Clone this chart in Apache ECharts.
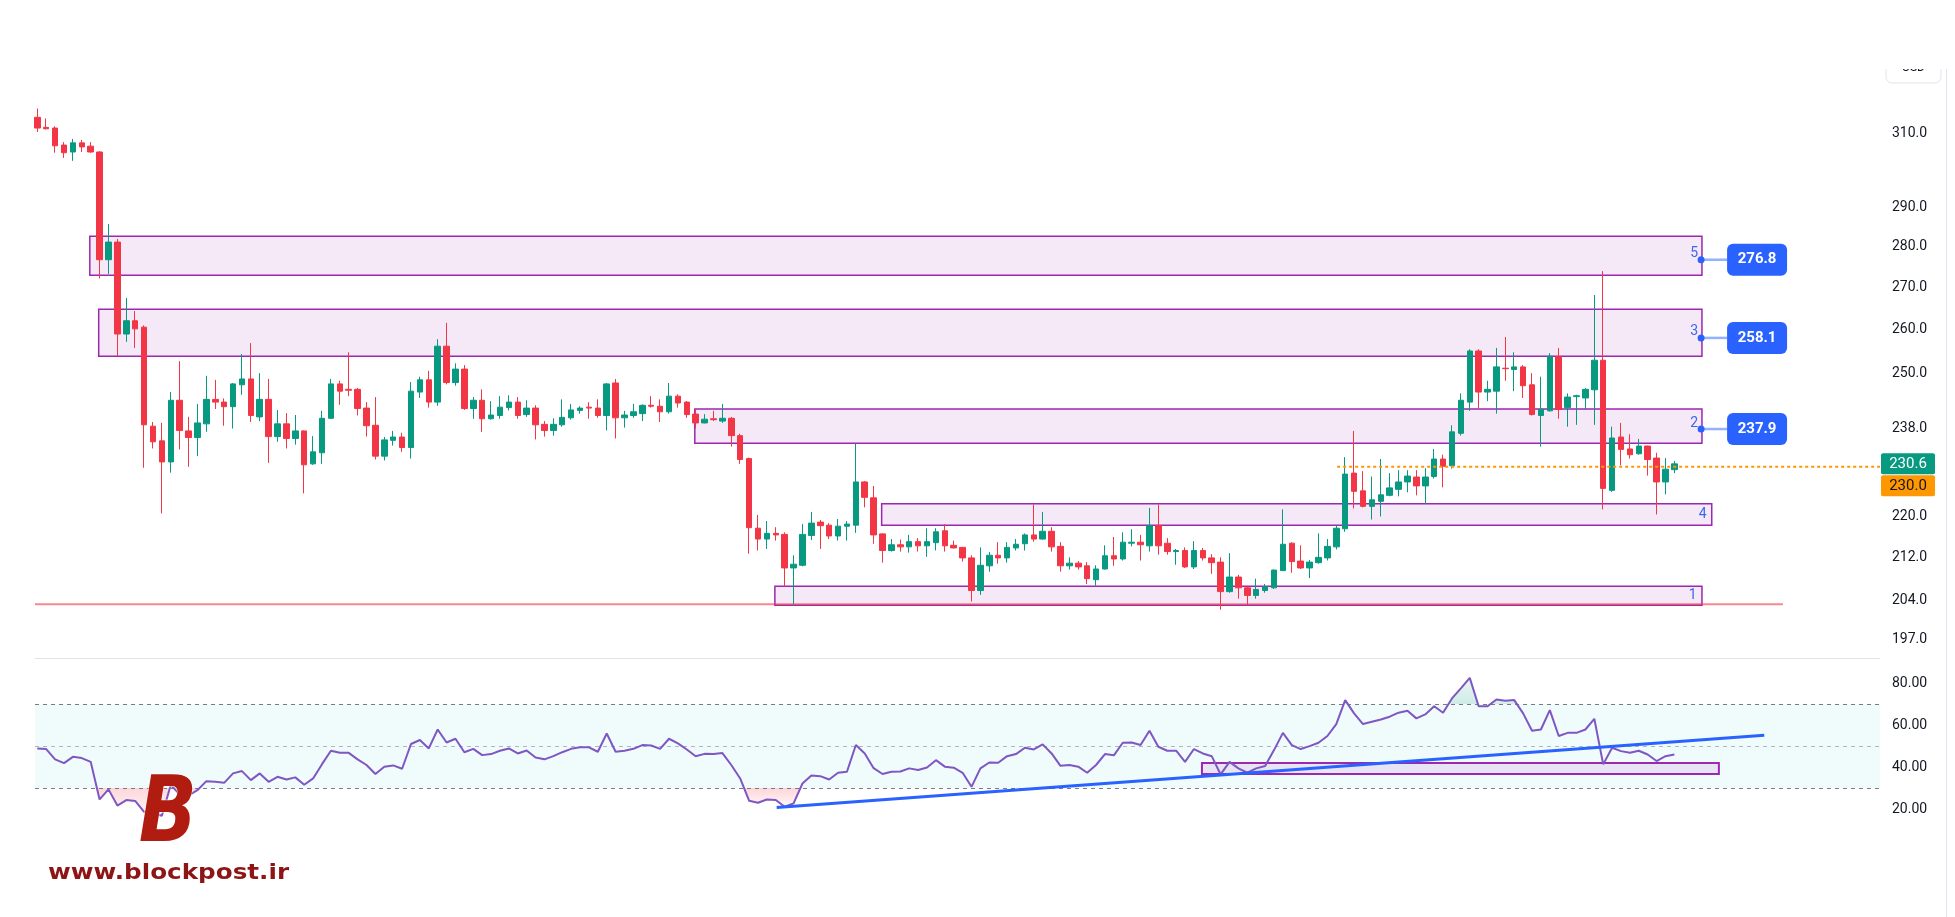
<!DOCTYPE html>
<html>
<head>
<meta charset="utf-8">
<title>Candles + RSI</title>
<script src="https://cdn.jsdelivr.net/npm/echarts@6/dist/echarts.min.js"></script>
<style>
  html, body { margin: 0; padding: 0; background: #fff; }
  #chart { width: 1955px; height: 917px; }
</style>
</head>
<body>
<div id="chart"></div>
<script>
// candles, one per bar: [open, close, low, high]
const ohlc = [
  [314.4,311.4,310.3,316.9],[311.6,311.2,311.0,314.1],[311.4,306.5,304.6,311.9],[306.7,304.6,303.2,307.5],
  [304.8,307.3,302.4,308.4],[307.3,306.2,304.8,308.1],[306.4,304.8,304.6,307.5],[304.8,276.8,272.2,305.0],
  [276.8,281.2,273.3,285.8],[281.2,259.0,253.8,282.0],[259.0,262.1,257.2,267.5],[262.1,260.2,255.8,264.4],
  [260.6,238.8,229.8,261.0],[238.5,235.2,233.8,239.4],[235.4,231.0,220.6,239.2],[231.0,244.1,228.8,245.9],
  [244.1,237.6,233.6,252.8],[237.5,236.1,230.0,240.5],[236.1,239.2,232.2,243.3],[239.0,244.3,237.3,249.5],
  [244.3,243.7,242.2,248.6],[243.7,242.7,238.6,244.5],[242.7,247.7,238.0,247.9],[247.5,248.8,245.3,254.4],
  [248.8,240.8,239.4,256.9],[240.5,244.3,239.6,250.1],[244.3,236.3,230.8,248.8],[236.3,239.0,235.2,242.0],
  [239.0,235.9,233.8,241.3],[235.9,237.5,234.6,240.9],[237.5,230.4,224.6,237.6],[230.6,233.1,230.4,236.4],
  [232.9,240.2,230.6,241.8],[240.2,247.7,240.1,248.8],[247.7,246.1,243.1,248.4],[246.5,246.3,245.0,254.8],
  [246.5,242.3,240.8,246.8],[242.4,238.6,236.3,243.7],[238.7,232.2,231.5,244.8],[232.2,235.6,231.3,236.2],
  [235.5,236.2,234.4,237.5],[236.2,234.0,233.1,237.1],[234.0,246.1,231.7,248.1],[245.9,248.6,244.6,249.3],
  [248.6,243.7,242.5,250.6],[243.7,256.2,242.9,257.8],[256.2,248.0,247.6,261.6],[248.0,251.0,247.3,252.3],
  [251.0,242.3,242.0,251.9],[242.3,244.1,240.1,244.8],[244.1,240.1,237.3,246.5],[240.1,240.9,239.9,243.9],
  [240.8,242.6,240.1,245.0],[242.5,243.7,241.9,245.2],[243.7,240.8,240.1,244.8],[241.0,242.4,240.5,244.1],
  [242.4,238.8,235.7,243.0],[238.9,237.6,236.3,239.6],[237.6,238.9,236.5,240.2],[238.8,240.4,238.4,244.3],
  [240.3,242.0,239.9,243.3],[241.9,242.4,241.2,242.8],[242.6,242.4,240.1,243.7],[242.4,240.8,240.3,244.3],
  [240.8,247.7,237.6,247.9],[247.9,240.3,235.9,248.8],[240.3,240.9,238.2,241.8],[240.8,241.6,240.3,243.3],
  [241.2,243.0,239.6,243.2],[243.0,242.8,242.5,245.0],[242.8,241.6,239.4,244.3],[241.6,245.0,241.2,247.9],
  [245.0,243.5,242.5,245.4],[243.7,241.0,240.3,243.9],[241.1,239.2,238.0,242.2],[239.2,240.0,239.1,241.1],
  [240.1,239.9,239.6,241.8],[239.6,240.2,239.2,243.3],[240.2,236.5,234.2,240.5],[236.5,231.5,230.6,236.9],
  [231.7,217.8,212.8,231.9],[217.7,215.6,213.4,220.3],[215.6,216.7,213.7,219.1],[216.7,216.4,215.3,217.9],
  [216.5,210.1,206.6,216.9],[210.1,210.8,203.4,212.5],[210.6,216.5,210.4,218.5],[216.3,218.7,215.4,220.9],
  [218.9,218.2,213.7,219.3],[218.3,216.2,215.6,218.7],[216.2,218.1,215.3,219.5],[218.1,218.5,215.3,219.1],
  [218.3,226.9,216.8,234.8],[226.9,223.8,221.8,227.1],[223.7,216.4,214.7,226.1],[216.6,213.4,211.1,216.7],
  [213.4,214.5,213.2,215.6],[214.5,214.1,213.2,215.5],[214.1,215.1,213.0,216.4],[215.1,214.3,213.2,215.8],
  [214.3,215.1,212.2,217.7],[214.9,217.0,213.4,217.7],[217.2,214.3,213.2,218.5],[214.4,213.9,213.8,215.3],
  [214.0,212.0,211.3,214.1],[212.0,205.9,203.9,212.5],[205.9,210.6,205.1,214.0],[210.5,212.5,209.4,213.1],
  [212.5,212.0,210.9,215.0],[212.0,214.0,211.1,215.0],[213.9,214.6,213.4,215.6],[214.7,216.4,213.4,216.7],
  [216.4,215.6,215.1,222.4],[215.6,217.1,215.5,220.9],[217.1,214.1,213.2,217.9],[214.2,210.5,209.4,215.0],
  [210.5,211.0,209.8,212.1],[211.0,210.3,209.8,211.4],[210.5,208.1,207.1,211.2],[207.9,209.9,206.8,210.6],
  [209.9,212.4,209.8,214.4],[212.4,211.8,210.5,216.0],[211.8,215.0,211.5,216.9],[214.8,215.0,214.2,217.5],
  [215.0,214.5,211.5,216.4],[214.3,218.2,213.2,221.7],[218.2,214.3,212.6,222.4],[214.8,213.2,212.6,215.8],
  [213.2,213.4,210.7,213.7],[213.4,210.3,210.1,214.0],[210.3,213.4,209.9,215.2],[213.4,212.0,211.5,213.9],
  [212.0,211.1,209.0,212.7],[211.2,205.7,202.4,212.1],[205.7,208.4,205.5,212.9],[208.4,206.4,204.4,208.8],
  [206.4,205.0,203.3,206.8],[205.0,206.1,204.4,208.1],[205.9,206.6,205.5,207.1],[206.4,209.7,206.2,209.8],
  [209.6,214.6,209.5,221.4],[214.8,211.3,209.2,215.0],[211.4,210.1,209.9,214.4],[210.1,211.2,208.2,211.6],
  [211.1,212.1,210.9,216.7],[212.0,214.2,211.5,215.6],[214.1,217.7,213.6,218.2],[217.6,228.5,217.0,232.0],
  [228.7,225.0,221.6,237.5],[225.1,222.0,221.8,229.1],[222.0,223.3,219.4,228.0],[223.0,224.3,220.0,231.6],
  [224.2,225.7,224.0,228.7],[225.4,226.9,224.0,229.3],[226.9,228.1,224.8,229.3],[227.9,226.1,224.2,229.3],
  [226.1,227.9,222.5,229.7],[228.0,231.6,227.6,233.7],[231.6,230.1,225.8,232.5],[230.2,237.3,229.6,238.7],
  [237.0,244.1,236.5,245.6],[243.7,255.1,241.8,255.5],[255.1,245.9,242.3,255.5],[245.9,246.5,243.9,248.4],
  [246.1,251.5,241.2,255.8],[251.2,251.1,248.4,258.3],[250.9,251.5,246.1,254.8],[251.5,247.3,244.6,251.9],
  [247.5,241.0,240.8,250.1],[240.8,242.1,234.2,249.3],[241.8,253.9,241.7,254.6],[253.8,242.1,240.1,255.8],
  [242.5,244.8,238.4,245.6],[244.9,245.1,238.8,245.3],[244.6,246.5,242.1,246.8],[246.4,253.0,238.8,268.2],
  [253.0,225.6,221.4,274.0],[225.2,236.0,224.9,238.4],[236.2,233.6,230.3,239.2],[233.7,232.5,231.7,236.8],
  [232.7,234.3,232.5,235.8],[234.3,231.5,228.2,234.4],[231.8,226.9,220.4,232.9],[226.9,229.5,224.4,231.8],
  [229.4,230.6,228.7,231.2]
];

const rsi = [
  48.9,48.6,43.7,41.9,44.9,44.3,42.5,24.6,29.4,21.7,24.3,23.9,18.7,18.0,16.8,31.5,27.0,26.5,29.0,33.3,
  33.0,32.5,37.0,38.1,33.8,37.0,33.0,35.4,34.1,35.1,31.6,34.6,41.4,47.8,46.8,46.8,43.7,41.0,36.7,40.2,
  40.8,39.2,51.0,52.9,48.9,57.9,51.7,53.5,47.1,48.7,45.7,46.2,47.8,48.9,46.5,47.9,44.6,43.7,45.2,47.1,
  48.7,49.4,49.4,47.3,56.0,47.3,47.8,48.7,50.5,50.3,48.7,53.5,51.3,48.4,45.2,46.3,46.2,46.7,41.0,34.6,
  24.0,23.0,24.6,24.3,21.1,22.7,32.2,36.0,35.7,34.1,37.3,37.8,50.5,46.5,39.5,36.7,37.8,37.9,39.4,38.6,
  39.8,43.3,40.2,39.7,37.3,30.6,39.4,42.2,42.1,45.2,46.2,49.2,48.4,50.8,46.5,40.6,41.0,40.2,37.3,41.0,
  46.2,45.6,51.6,51.7,50.5,57.3,49.7,47.8,47.8,42.5,48.6,46.5,45.2,36.5,42.5,39.4,37.3,39.4,40.5,48.1,
  56.3,50.5,48.6,50.0,51.6,54.8,60.5,71.9,65.6,60.5,61.6,62.7,64.0,65.9,66.8,63.2,65.1,69.0,65.9,72.7,
  77.5,82.5,69.0,69.0,72.2,71.6,71.9,65.6,57.3,57.9,67.1,54.8,56.3,56.3,57.9,63.0,41.3,49.2,47.6,46.8,
  47.8,46.0,42.9,45.2,46.0
];

const priceTicks = [197, 204, 212, 220, 238, 250, 260, 270, 280, 290, 310];
const rsiTicks = [20, 40, 60, 80];

// zones: [from bar, to bar, top price, bottom price, tag]
const zones = [
  [5.9, 187.1, 282.7, 273.0, ''],
  [6.9, 187.1, 264.8, 253.9, ''],
  [73.9, 187.1, 242.2, 234.9, ''],
  [94.9, 188.2, 222.5, 218.3, '4'],
  [82.9, 187.1, 206.7, 203.2, '1']
];
const levelTags = [['5', 276.8], ['3', 258.1], ['2', 237.9]];
const levelTagBar = 187.0;
const supportLine = [[-0.26, 203.4], [196.2, 203.4]];
const lastClose = 230.6;
const alertLevel = 230.0;
const alertFrom = 146.1;
const rsiBox = [130.9, 189.0, 42.0, 36.7];
const rsiTrend = [[83.1, 20.8], [194.1, 55.2]];

const X_MIN = -0.26, X_MAX = 207.11;
const LN_MIN = Math.log(193.84), LN_MAX = Math.log(343.0);
const FONT = 'Roboto, "Noto Sans", sans-serif';

const chart = echarts.init(document.getElementById('chart'));

const hiddenX = (g) => ({ type: 'value', gridIndex: g, min: X_MIN, max: X_MAX, show: false });
const rightY = (g, min, max, ticks, fmt) => ({
  type: 'value', gridIndex: g, position: 'right', min: min, max: max,
  splitLine: { show: false }, axisLine: { show: false }, axisTick: { show: false },
  axisLabel: { customValues: ticks, formatter: fmt, color: '#131722', fontSize: 14, fontFamily: FONT, margin: 12 }
});

// shaded area between the RSI line and a level, only where the line is beyond it
function levelFill(level, below, fill) {
  const beyond = v => below ? v < level : v > level;
  return {
    type: 'custom', xAxisIndex: 1, yAxisIndex: 1, silent: true, z: 2,
    data: [[0, level]],
    renderItem: (params, api) => {
      const polys = [];
      let run = null;
      for (let k = 0; k < rsi.length; k++) {
        const v = rsi[k];
        if (beyond(v)) {
          if (!run) {
            if (k > 0) {
              const a = rsi[k - 1];
              run = [[k - 1 + (level - a) / (v - a), level]];
            } else {
              run = [[k, level]];
            }
          }
          run.push([k, v]);
        } else if (run) {
          const a = rsi[k - 1];
          run.push([k - 1 + (level - a) / (v - a), level]);
          polys.push(run);
          run = null;
        }
      }
      if (run) { run.push([rsi.length - 1, level]); polys.push(run); }
      return {
        type: 'group',
        children: polys.map(p => ({
          type: 'polygon',
          shape: { points: p.map(q => api.coord(q)) },
          style: { fill: fill }
        }))
      };
    }
  };
}

const option = {
  animation: false,
  backgroundColor: '#ffffff',
  grid: [
    { left: 35, right: 75, top: 20, height: 638 },
    { left: 35, right: 75, top: 660, height: 191.1 }
  ],
  xAxis: [hiddenX(0), hiddenX(1)],
  yAxis: [
    rightY(0, LN_MIN, LN_MAX, priceTicks.map(Math.log), v => Math.exp(v).toFixed(1)),
    rightY(1, 0, 91, rsiTicks, v => v.toFixed(2))
  ],
  series: [
    {
      type: 'candlestick',
      xAxisIndex: 0, yAxisIndex: 0,
      barWidth: 6,
      z: 2,
      data: ohlc.map((c, k) => [k].concat(c.map(Math.log))),
      itemStyle: {
        color: '#089981', color0: '#f23645',
        borderColor: '#089981', borderColor0: '#f23645', borderWidth: 1
      },
      markArea: {
        silent: true,
        itemStyle: { color: 'rgba(156,39,176,0.1)', borderColor: '#9c27b0', borderWidth: 1.5 },
        label: { show: true, position: 'insideRight', distance: 6, color: '#3f66f0', fontSize: 14, fontFamily: FONT },
        data: zones.map(z => [
          { name: z[4], xAxis: z[0], yAxis: Math.log(z[2]) },
          { xAxis: z[1], yAxis: Math.log(z[3]) }
        ])
      }
    },
    {
      type: 'line', xAxisIndex: 0, yAxisIndex: 0, symbol: 'none', silent: true, z: 1,
      data: supportLine.map(([i, p]) => [i, Math.log(p)]),
      lineStyle: { color: 'rgba(242,54,69,0.6)', width: 2 }
    },
    {
      type: 'line', xAxisIndex: 0, yAxisIndex: 0, symbol: 'none', silent: true, z: 3,
      data: [[alertFrom, Math.log(alertLevel)], [X_MAX, Math.log(alertLevel)]],
      lineStyle: { color: '#ff9800', width: 2, type: [3, 3] }
    },
    levelFill(30, true, new echarts.graphic.LinearGradient(0, 0, 0, 1, [
      { offset: 0, color: 'rgba(242,54,69,0.2)' }, { offset: 1, color: 'rgba(242,54,69,0.04)' }])),
    levelFill(70, false, new echarts.graphic.LinearGradient(0, 0, 0, 1, [
      { offset: 0, color: 'rgba(8,153,129,0.08)' }, { offset: 1, color: 'rgba(8,153,129,0.2)' }])),
    {
      type: 'line', xAxisIndex: 1, yAxisIndex: 1, symbol: 'none', silent: true, z: 3,
      data: rsi.map((v, k) => [k, v]),
      lineStyle: { color: '#7e57c2', width: 2 },
      markArea: {
        silent: true,
        label: { show: false },
        data: [
          [{ yAxis: 30, itemStyle: { color: 'rgba(0,188,212,0.06)' } }, { yAxis: 70 }],
          [{ xAxis: rsiBox[0], yAxis: rsiBox[2], itemStyle: { color: 'rgba(156,39,176,0.1)', borderColor: '#9c27b0', borderWidth: 2 } },
           { xAxis: rsiBox[1], yAxis: rsiBox[3] }]
        ]
      },
      markLine: {
        silent: true, symbol: ['none', 'none'], label: { show: false }, z: 1,
        data: [
          { yAxis: 70, lineStyle: { color: '#787b86', type: [4, 4], width: 1 } },
          { yAxis: 50, lineStyle: { color: '#b2b5be', type: [4, 4], width: 1 } },
          { yAxis: 30, lineStyle: { color: '#787b86', type: [4, 4], width: 1 } }
        ]
      }
    },
    {
      type: 'line', xAxisIndex: 1, yAxisIndex: 1, symbol: 'none', silent: true, z: 4,
      data: rsiTrend,
      lineStyle: { color: '#2962ff', width: 3 }
    }
  ]
};

chart.setOption(option);

// overlays placed through the price scale
const px = (i, p) => chart.convertToPixel({ gridIndex: 0 }, [i, Math.log(p)]);
const g = [];

levelTags.forEach(([n, p]) => {
  const [x, y] = px(levelTagBar, p);
  g.push({ type: 'line', z: 10, shape: { x1: x, y1: y, x2: x + 26, y2: y }, style: { stroke: 'rgba(41,98,255,0.5)', lineWidth: 2.5 } });
  g.push({ type: 'circle', z: 11, shape: { cx: x, cy: y, r: 3.5 }, style: { fill: '#2962ff' } });
  g.push({ type: 'rect', z: 11, shape: { x: x + 26, y: y - 16, width: 60, height: 32, r: 6 }, style: { fill: '#2962ff' } });
  g.push({ type: 'text', z: 12, x: x + 56, y: y, style: { text: p.toFixed(1), align: 'center', verticalAlign: 'middle', fill: '#ffffff', font: 'bold 15px ' + FONT } });
  g.push({ type: 'text', z: 12, x: x - 3, y: y - 6, style: { text: n, align: 'right', verticalAlign: 'middle', fill: '#3f66f0', font: '14px ' + FONT } });
});

// last price + alert tags on the axis
const yc = px(0, lastClose)[1];
g.push({ type: 'rect', z: 12, shape: { x: 1881, y: yc - 10.5, width: 54, height: 21, r: 2 }, style: { fill: '#089981' } });
g.push({ type: 'text', z: 13, x: 1908, y: yc, style: { text: lastClose.toFixed(1), align: 'center', verticalAlign: 'middle', fill: '#ffffff', font: '15px ' + FONT } });
g.push({ type: 'rect', z: 12, shape: { x: 1881, y: yc + 11.5, width: 54, height: 21, r: 2 }, style: { fill: '#ff9800' } });
g.push({ type: 'text', z: 13, x: 1908, y: yc + 22, style: { text: alertLevel.toFixed(1), align: 'center', verticalAlign: 'middle', fill: '#131722', font: '15px ' + FONT } });

// frame bits
g.push({ type: 'line', z: 5, shape: { x1: 35, y1: 658.5, x2: 1880, y2: 658.5 }, style: { stroke: '#e0e3eb', lineWidth: 1 } });
g.push({ type: 'line', z: 5, shape: { x1: 1946.5, y1: 69, x2: 1946.5, y2: 917 }, style: { stroke: '#e0e3eb', lineWidth: 1 } });
g.push({ type: 'rect', z: 14, shape: { x: 1886, y: 40, width: 55, height: 43, r: 6 }, style: { fill: '#ffffff', stroke: '#e0e3eb', lineWidth: 1 } });
g.push({ type: 'text', z: 15, x: 1913.5, y: 68, style: { text: 'USD', align: 'center', verticalAlign: 'middle', fill: '#131722', font: '12px ' + FONT } });
g.push({ type: 'rect', z: 16, shape: { x: 1880, y: 0, width: 75, height: 69 }, style: { fill: '#ffffff' } });

// watermark logo
g.push({ type: 'text', z: 20, x: 168, y: 818, scaleX: 0.85, style: {
  text: 'B', align: 'center', verticalAlign: 'middle', font: 'italic bold 90px "DejaVu Sans"',
  fill: '#b01d10', stroke: '#ffffff', lineWidth: 1
} });
g.push({ type: 'text', z: 20, x: 48, y: 873, scaleX: 1.12, style: {
  text: 'www.blockpost.ir', align: 'left', verticalAlign: 'middle', font: 'bold 22px "DejaVu Sans"', fill: '#8e1515'
} });

chart.setOption({ graphic: g });
</script>
</body>
</html>
